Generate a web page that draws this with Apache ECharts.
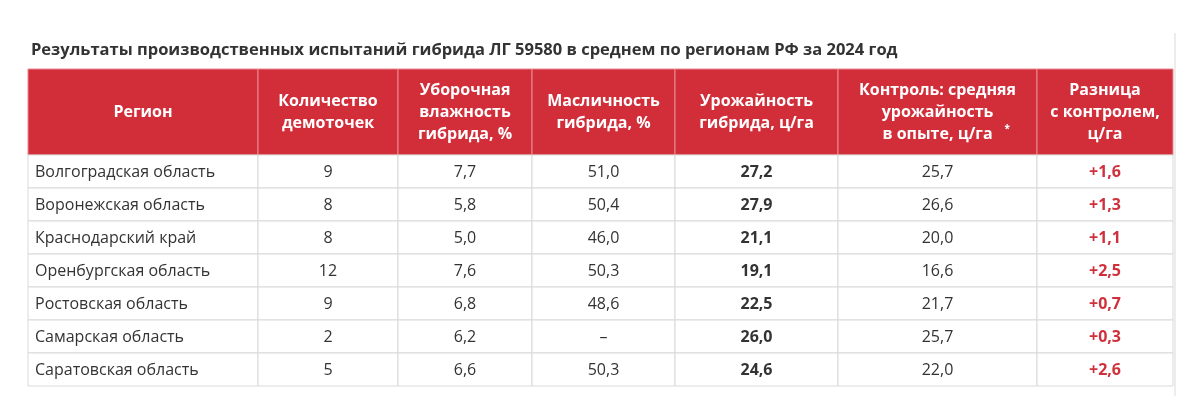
<!DOCTYPE html>
<html><head><meta charset="utf-8">
<script src="https://cdn.jsdelivr.net/npm/echarts@6/dist/echarts.min.js"></script>
<style>html,body{margin:0;padding:0;background:#fff}#c{width:1200px;height:416px}</style>
</head><body><div id="c"></div>
<script>
var title = 'Результаты производственных испытаний гибрида ЛГ 59580 в среднем по регионам РФ за 2024 год';
var headers = ['Регион','Количество\nдемоточек','Уборочная\nвлажность\nгибрида, %','Масличность\nгибрида, %','Урожайность\nгибрида, ц/га','Контроль: средняя\nурожайность\nв опыте, ц/га*','Разница\nс контролем,\nц/га'];
var regions = ['Волгоградская область','Воронежская область','Краснодарский край','Оренбургская область','Ростовская область','Самарская область','Саратовская область'];
var points = ['9','8','8','12','9','2','5'];
var moisture = ['7,7','5,8','5,0','7,6','6,8','6,2','6,6'];
var oil = ['51,0','50,4','46,0','50,3','48,6','–','50,3'];
var yieldH = ['27,2','27,9','21,1','19,1','22,5','26,0','24,6'];
var control = ['25,7','26,6','20,0','16,6','21,7','25,7','22,0'];
var diff = ['+1,6','+1,3','+1,1','+2,5','+0,7','+0,3','+2,6'];

var edges = [0,230,370,504,647,810,1009,1145];
var HEAD = 86, ROW = 33;
var cols = [regions, points, moisture, oil, yieldH, control, diff];
var RED = '#d22e3a';
var data = [];
for (var c = 0; c < 7; c++) {
  data.push([c, -1, headers[c]]);
  for (var r = 0; r < regions.length; r++) data.push([c, r, cols[c][r]]);
}
function renderItem(params, api) {
  var c = api.value(0), r = api.value(1), txt = data[params.dataIndex][2];
  var y0 = r < 0 ? 0 : HEAD + r * ROW, y1 = r < 0 ? HEAD : y0 + ROW;
  var p0 = api.coord([edges[c], y0]), p1 = api.coord([edges[c + 1], y1]);
  var x = p0[0], y = p0[1], w = p1[0] - p0[0], h = p1[1] - p0[1];
  var children = [];
  if (r < 0) {
    children.push({type:'rect', shape:{x:x,y:y,width:w,height:h}, style:{fill:RED, stroke:'#e88a90', lineWidth:1}});
    var t = txt.replace('*','');
    children.push({type:'text', style:{text:t, x:x+w/2, y:y+h/2, align:'center', verticalAlign:'middle', fill:'#fff', font:'bold 16px "Open Sans"', lineHeight:22}});
    if (txt.indexOf('*')>=0) children.push({type:'text', style:{text:'*', x:x+w/2+67, y:y+h/2+12, fill:'#fff', font:'bold 10px "Open Sans"'}});
  } else {
    children.push({type:'rect', shape:{x:x,y:y,width:w,height:h}, style:{fill:'#fff', stroke:'#d9d9d9', lineWidth:1}});
    var left = c === 0;
    var bold = c === 4 || c === 6;
    children.push({type:'text', style:{text:txt, x:left ? x+7 : x+w/2, y:y+h/2+1, align:left?'left':'center', verticalAlign:'middle', fill: c===6 ? '#d0303c' : '#333', font:(bold?'bold ':'')+'16px "Open Sans"'}});
  }
  return {type:'group', children:children};
}
var chart = echarts.init(document.getElementById('c'));
chart.setOption({
  animation:false,
  title:{text:title, left:26, top:37, textStyle:{fontFamily:'Open Sans', fontSize:16.5, fontWeight:'bold', color:'#333'}},
  grid:{left:28, top:69, width:1145, height:HEAD + ROW*regions.length},
  xAxis:{type:'value', min:0, max:edges[edges.length-1], show:false},
  yAxis:{type:'value', min:0, max:HEAD + ROW*regions.length, inverse:true, show:false},
  graphic:[{type:'line', shape:{x1:1175,y1:33,x2:1175,y2:396}, style:{stroke:'#d9d9d9', lineWidth:1}}],
  series:[{type:'custom', renderItem:renderItem, data:data.map(function(d){return [d[0], d[1]];}), clip:false}]
});
</script></body></html>
